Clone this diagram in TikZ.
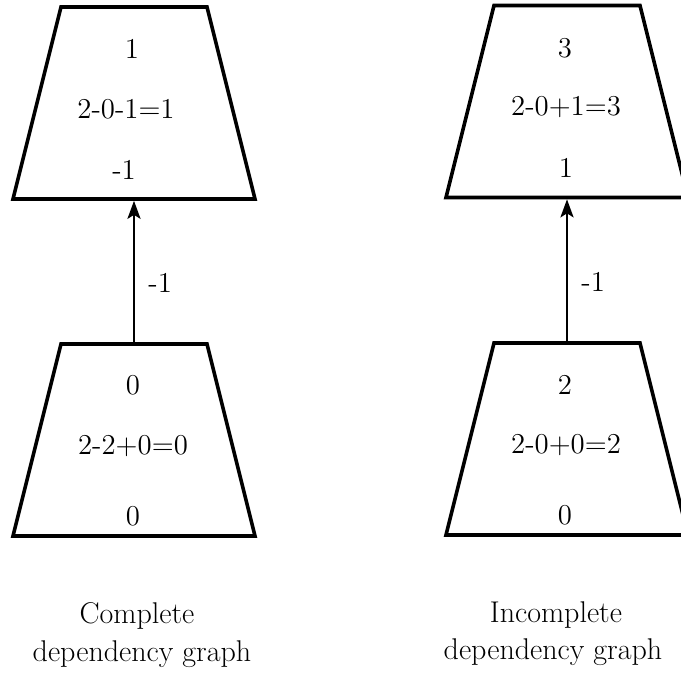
\documentclass[tikz,border=0pt]{standalone}
\usetikzlibrary{shapes.geometric,arrows.meta}
\tikzset{
  block/.style={trapezium, draw, line width=1.8pt, trapezium angle=75.96,
    trapezium stretches body, inner xsep=0pt, inner ysep=48pt, minimum width=121pt},
  val/.style={font=\fontsize{14.4}{18}\selectfont, inner sep=0pt},
  dep/.style={-{Stealth[length=9pt,width=6.5pt,inset=2pt]}, line width=1.4pt},
  graphname/.style={font=\fontsize{15}{18}\selectfont, anchor=base, inner sep=0pt}
}
\begin{document}
\begin{tikzpicture}[x=0.5pt,y=0.5pt]
  \useasboundingbox (0,0) rectangle (681,679);
  % complete dependency graph
  \node[block] (ctop) at (134,576) {};
  \node[block] (cbot) at (134,239) {};
  \node[val] (ct1) at (132,630) {1};
  \node[val] (ct2) at (126,570) {2-0-1=1};
  \node[val] (ct3) at (124,509) {-1};
  \node[val] (cb1) at (133,294) {0};
  \node[val] (cb2) at (133,233) {2-2+0=0};
  \node[val] (cb3) at (133,163) {0};
  \draw[dep] (cbot.north) -- (ctop.south) node[val,pos=0.42,right=6.5pt] (ce) {-1};
  \node[graphname] (cc1) at (137,55) {Complete};
  \node[graphname] (cc2) at (142,17) {dependency graph};
  % incomplete dependency graph
  \node[block] (itop) at (567,577.5) {};
  \node[block] (ibot) at (567,240) {};
  \node[val] (it1) at (565,631) {3};
  \node[val] (it2) at (566,571.5) {2-0+1=3};
  \node[val] (it3) at (566,511) {1};
  \node[val] (ib1) at (565,294) {2};
  \node[val] (ib2) at (566,233.5) {2-0+0=2};
  \node[val] (ib3) at (565,163.5) {0};
  \draw[dep] (ibot.north) -- (itop.south) node[val,pos=0.42,right=6.5pt] (ie) {-1};
  \node[graphname] (ic1) at (556,56) {Incomplete};
  \node[graphname] (ic2) at (553,19) {dependency graph};
\end{tikzpicture}
\end{document}
